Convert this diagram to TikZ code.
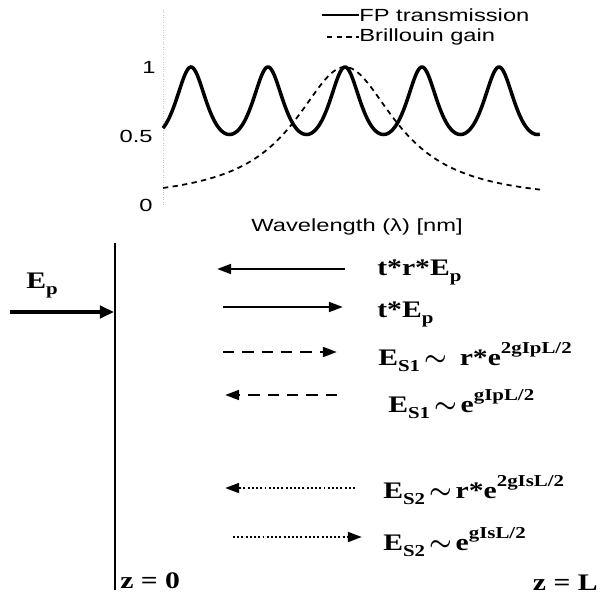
\documentclass[tikz,border=0pt]{standalone}
\usepackage{fontspec}
\usetikzlibrary{arrows.meta, positioning}
\newfontfamily\plotfont[FakeStretch=1.35]{Liberation Sans}
\newfontfamily\eqfont[FakeStretch=1.25]{Liberation Serif}
\newcommand{\sbs}[1]{\raisebox{-3.5pt}{\fontsize{9.5}{10}\selectfont #1}}
\newcommand{\sps}[1]{\raisebox{6.5pt}{\fontsize{9.5}{10}\selectfont #1}}

\begin{document}
\begin{tikzpicture}[>={Triangle[length=8pt, width=5.5pt]},
  beam/.style={line width=1.5pt},
  dashbeam/.style={beam, dash pattern=on 6.5pt off 4.5pt},
  dotbeam/.style={beam, dash pattern=on 1.1pt off 1.3pt},
  eq/.style={anchor=base west, inner sep=0pt, font=\eqfont\bfseries\fontsize{13.5}{15}\selectfont\boldmath},
  ptext/.style={inner sep=0pt, font=\plotfont\fontsize{10}{12}\selectfont}]

\useasboundingbox (0,0) rectangle (12.04,12);

% Spectrum inset
\draw[gray!45, densely dotted] (3.26,7.9) -- (3.26,11.8);
\node[ptext, anchor=east] (tickone)  at (3.12,10.66) {1};
\node[ptext, anchor=east] (tickhalf) at (3.06,9.28) {0.5};
\node[ptext, anchor=east] (tickzero) at (3.06,7.9) {0};
\begin{scope}[shift={(3.26,7.96)}, yscale=2.7]
  \draw[line width=2pt] plot[domain=0:7.54, samples=300, smooth]
    (\x, {1/(1+sin(180*(\x-3.64)/1.54)^2)});
  \draw[line width=1pt, dash pattern=on 3pt off 2.5pt] plot[domain=0:7.54, samples=200, smooth]
    (\x, {1/(1+((\x-3.64)/1.24)^2)});
\end{scope}
\node[ptext, anchor=center] (xlabel) at (7.14,7.46) {Wavelength (λ) [nm]};

% Legend
\node[ptext, anchor=west] (lgfp) at (7.18,11.7) {FP transmission};
\node[ptext, anchor=west] (lgbr) at (7.18,11.26) {Brillouin gain};
\coordinate (lgfpa) at (6.44,11.7);
\coordinate (lgbra) at (6.54,11.26);
\draw[line width=1.3pt] (lgfpa) -- (lgfp.west);
\draw[line width=1pt, dash pattern=on 3pt off 2.5pt] (lgbra) -- (lgbr.west);

% Mirror at z = 0 and pump input
\coordinate (mtop) at (2.3,7.14);
\coordinate (mbot) at (2.3,0.2);
\draw[line width=1.6pt] (mtop) -- (mbot);
\coordinate (pin) at (0.2,5.76);
\coordinate (hit) at (2.28,5.76);
\draw[->, line width=2.2pt, >={Triangle[length=8pt, width=7pt]}] (pin) -- (hit);
\node[eq] (eplabel) at (0.52,6.24) {E\sbs{p}};

% Field labels
\node[eq] (lab1) at (7.54,6.5)  {t*r*E\sbs{p}};
\node[eq] (lab2) at (7.54,5.66) {t*E\sbs{p}};
\node[eq] (lab3) at (7.56,4.7)  {E\sbs{S1}\,$\sim$\hspace{0.55em}r*e\sps{2gIpL/2}};
\node[eq] (lab4) at (7.76,3.76) {E\sbs{S1}\,$\sim$\,e\sps{gIpL/2}};
\node[eq] (lab5) at (7.66,2.04) {E\sbs{S2}\,$\sim$\,r*e\sps{2gIsL/2}};
\node[eq] (lab6) at (7.66,1.0)  {E\sbs{S2}\,$\sim$\,e\sps{gIsL/2}};

% Propagating fields
\coordinate (a1t) at (6.9,6.62);  \coordinate (a1h) at (4.34,6.62);
\coordinate (a2t) at (4.46,5.86); \coordinate (a2h) at (6.86,5.86);
\coordinate (a3t) at (4.46,4.96); \coordinate (a3h) at (6.74,4.96);
\coordinate (a4t) at (6.74,4.1);  \coordinate (a4h) at (4.5,4.1);
\coordinate (a5t) at (7.1,2.24);  \coordinate (a5h) at (4.5,2.24);
\coordinate (a6t) at (4.66,1.26); \coordinate (a6h) at (7.24,1.26);
\draw[->, beam] (a1t) -- (a1h);
\draw[->, beam] (a2t) -- (a2h);
\draw[->, dashbeam] (a3t) -- (a3h);
\draw[->, dashbeam] (a4t) -- (a4h);
\draw[->, dotbeam] (a5t) -- (a5h);
\draw[->, dotbeam] (a6t) -- (a6h);

% Ends of the fibre
\node[eq] (zzero) at (2.4,0.24) {z = 0};
\node[eq, anchor=base east] (zL) at (11.96,0.2) {z = L};

\end{tikzpicture}
\end{document}
